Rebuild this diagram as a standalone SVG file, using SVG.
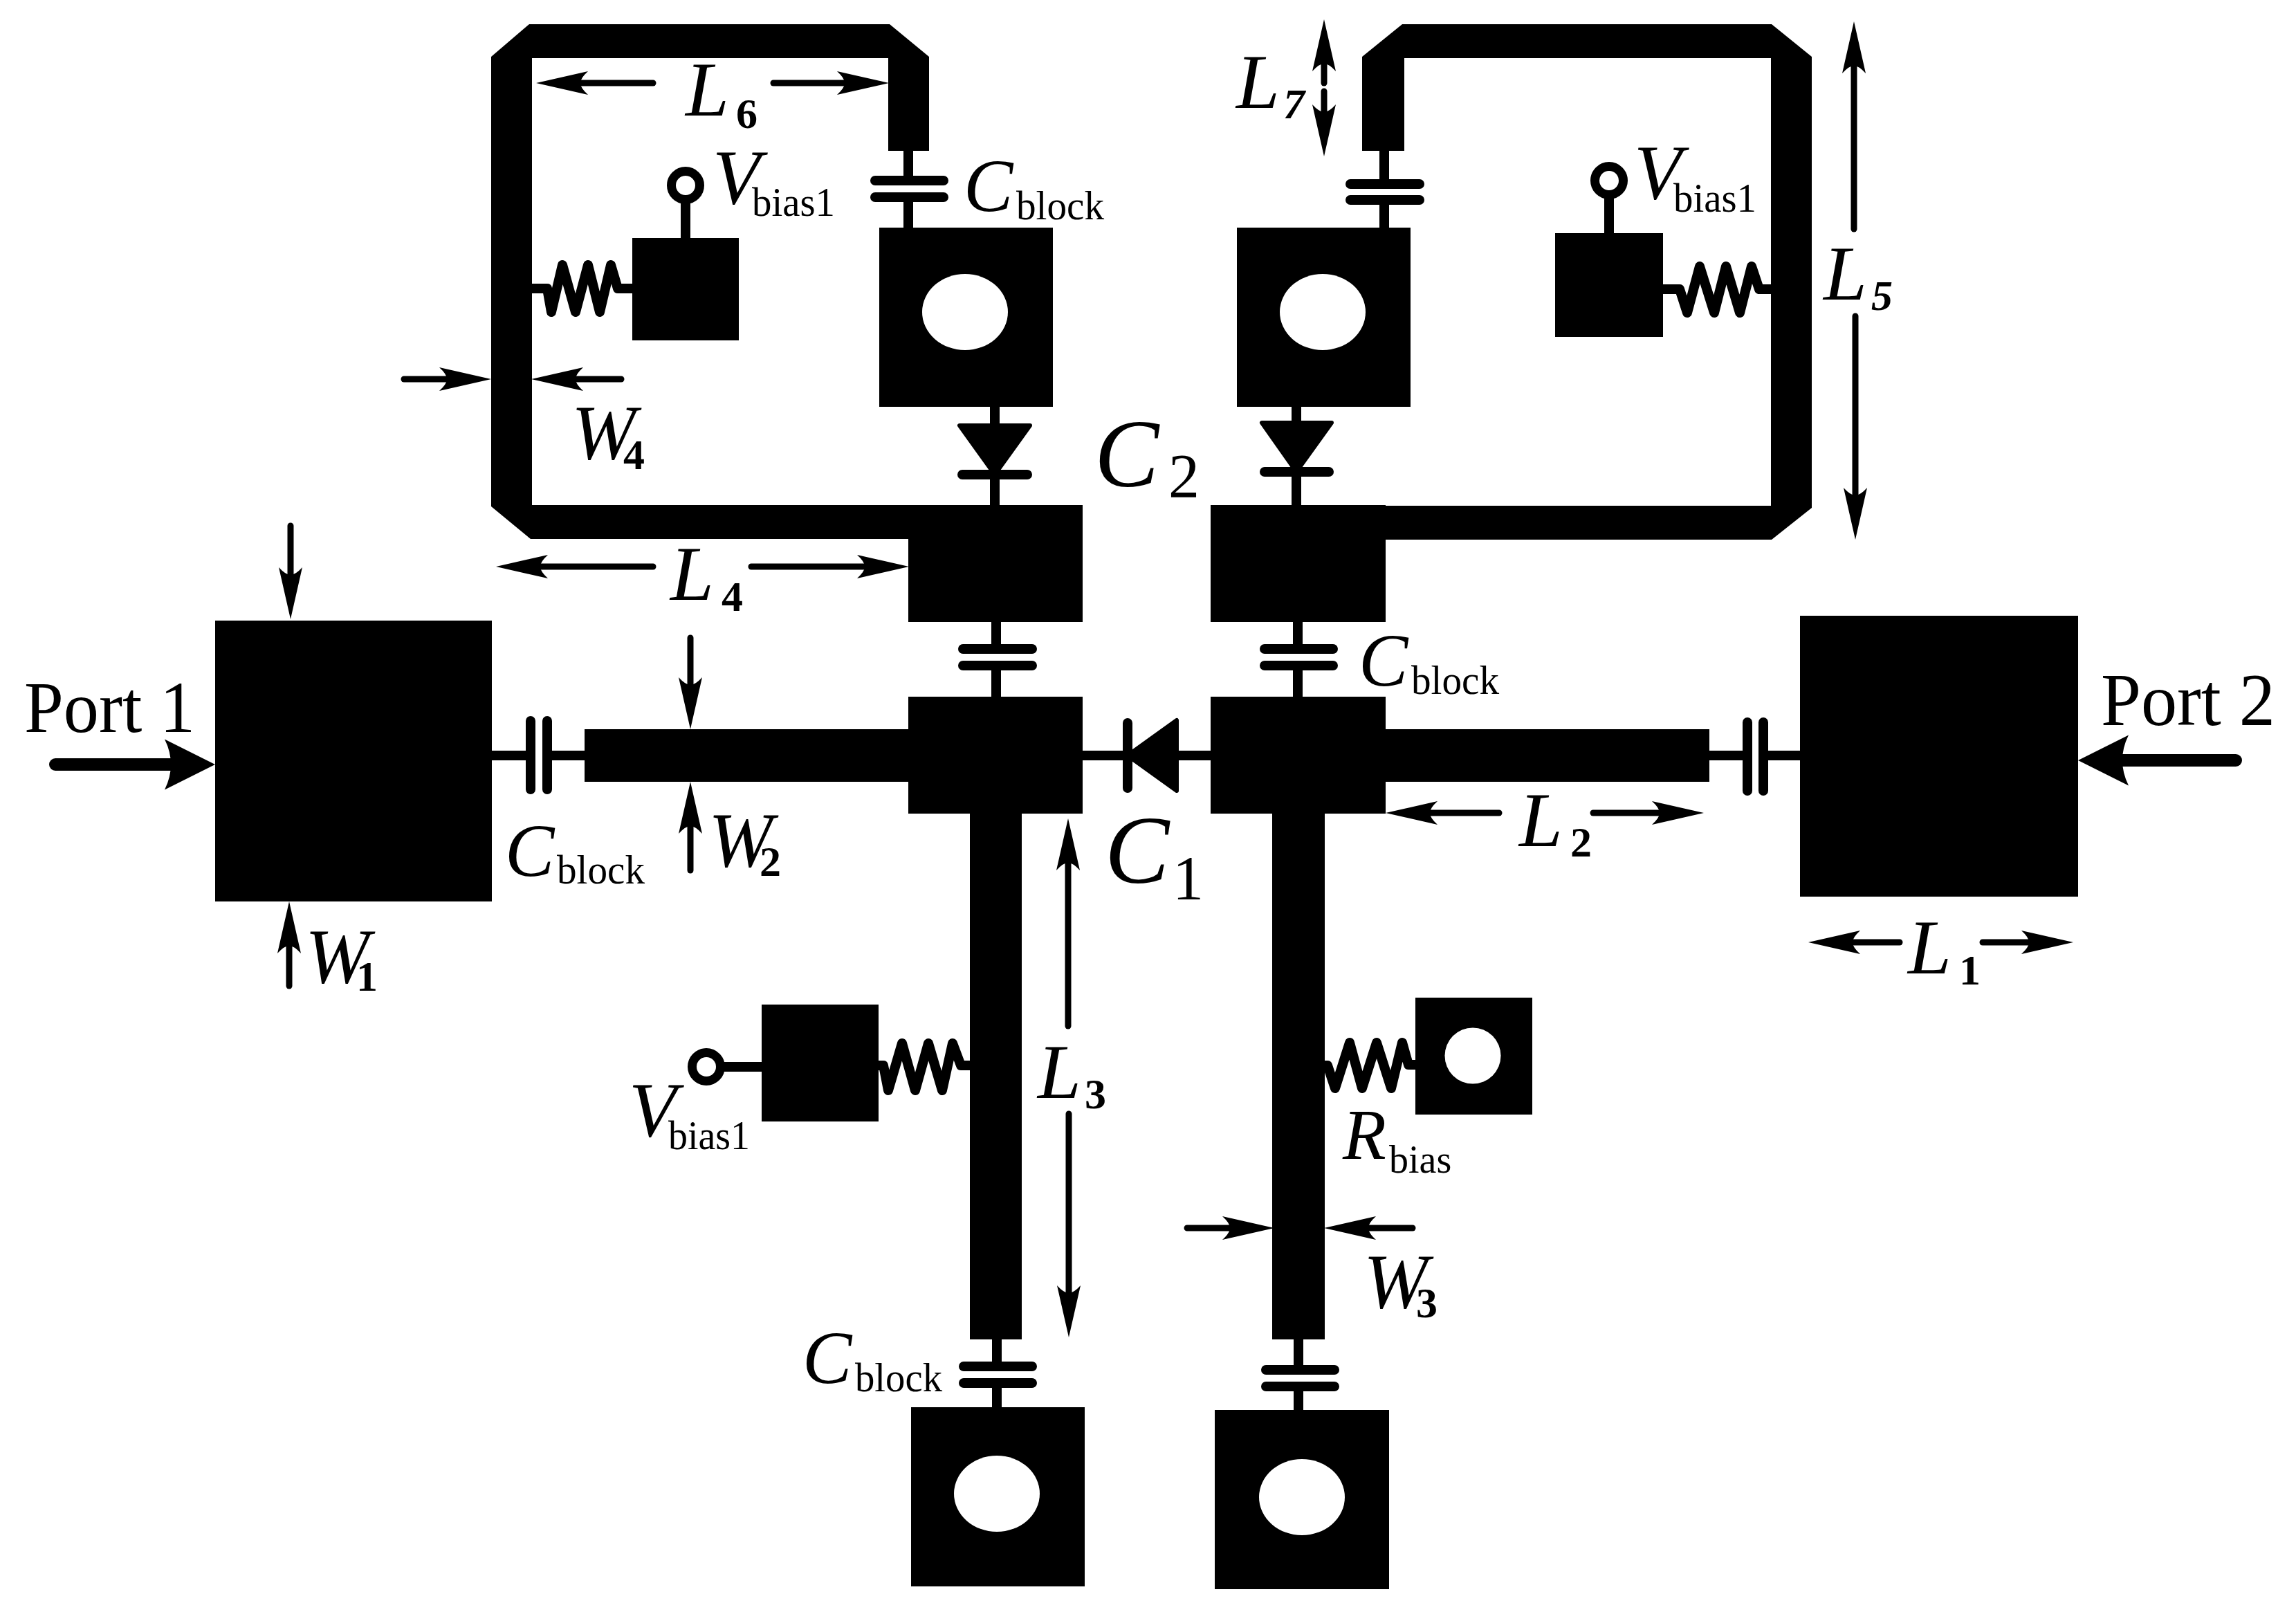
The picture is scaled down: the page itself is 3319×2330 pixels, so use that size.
<svg xmlns="http://www.w3.org/2000/svg" width="3319" height="2330" viewBox="0 0 3319 2330">
<style>
.s{fill:#000;stroke:none}
.h{fill:#fff;stroke:none}
.w{fill:none;stroke:#000;stroke-width:14;stroke-linecap:butt}
.p{fill:none;stroke:#000;stroke-width:14;stroke-linecap:round}
.r{fill:none;stroke:#000;stroke-width:14;stroke-linejoin:round}
.d{fill:#000;stroke:#000;stroke-width:6;stroke-linejoin:round}
.o{fill:#fff;stroke:#000;stroke-width:13}
.a{fill:none;stroke:#000;stroke-width:9;stroke-linecap:round;marker-end:url(#ah)}
.b{fill:none;stroke:#000;stroke-width:18;stroke-linecap:round;marker-end:url(#ph)}
text{fill:#000;font-family:"Liberation Serif","Times New Roman",serif}
.it{font-style:italic}
.rm{font-style:normal;font-weight:400}
.bd{font-style:normal;font-weight:700;font-size:62px}
.bi{font-style:italic;font-weight:700;font-size:62px}
.L{font-size:113px}
.C{font-size:107px}
.CC{font-size:140px}
.sb{font-size:60px;font-style:normal}
</style>
<defs>
<marker id="ah" markerUnits="userSpaceOnUse" viewBox="0 0 75 34" markerWidth="75" markerHeight="34" refX="11" refY="17" orient="auto" overflow="visible"><path d="M75 17L0 0Q11 10 11 17Q11 24 0 34Z"/></marker>
<marker id="ph" markerUnits="userSpaceOnUse" viewBox="0 0 73 73" markerWidth="73" markerHeight="73" refX="9" refY="36.5" orient="auto" overflow="visible"><path d="M73 36.5L0 0Q9 18 9 36.5Q9 55 0 73Z"/></marker>
</defs>
<rect width="3319" height="2330" fill="#fff"/>

<g id="connectors">
<path class="w" d="M1313 218V254M1313 292V329M1438 588V730M1440 899V931M1440 969V1007M1876 899V931M1876 969V1007M2001 218V259M2001 296V329M1874 588V730M1441 1936V1968M1441 2006V2034M1877 1936V1973M1877 2011V2038M991 344V285M2326 337V278"/>
<path class="w" d="M711 1092H760M797 1092H845M2471 1092H2519M2556 1092H2602M1565 1092H1750M1047 1542H1101"/>
<path class="r" d="M769 417H791L797 451L813 383L832 451L850 383L867 451L883 383L893 417H914"/>
<path class="r" d="M2404 418H2428L2439 452L2457 385L2478 452L2495 385L2515 452L2532 385L2543 418H2560"/>
<path class="r" d="M1270 1540H1277L1284 1576L1304 1508L1323 1576L1342 1508L1362 1576L1377 1508L1389 1540H1402"/>
<path class="r" d="M1915 1540H1919L1930 1573L1951 1507L1969 1573L1990 1507L2011 1573L2027 1507L2036 1539H2047"/>
</g>

<g id="arrows">
<path class="a" d="M420 760V831"/><path class="a" d="M418 1425V1367"/>
<path class="a" d="M998 922V990"/><path class="a" d="M998 1258V1194"/>
<path class="a" d="M1544 1483V1247"/><path class="a" d="M1545 1610V1869"/>
<path class="a" d="M944 819H781"/><path class="a" d="M1086 819H1250"/>
<path class="a" d="M944 120H839"/><path class="a" d="M1118 120H1221"/>
<path class="a" d="M898 548H832"/><path class="a" d="M584 548H646"/>
<path class="a" d="M1716 1775H1778"/><path class="a" d="M2042 1775H1978"/>
<path class="a" d="M2167 1175H2067"/><path class="a" d="M2303 1175H2399"/>
<path class="a" d="M2746 1362H2678"/><path class="a" d="M2866 1362H2933"/>
<path class="a" d="M1914 120V92"/><path class="a" d="M1914 132V162"/>
<path class="a" d="M2680 331V95"/><path class="a" d="M2682 457V716"/>
<path class="b" d="M80 1105H247"/><path class="b" d="M3232 1099H3068"/>
</g>

<g id="port1"><rect class="s" x="311" y="897" width="400" height="406"/></g>
<g id="port2"><rect class="s" x="2602" y="890" width="402" height="406"/></g>
<g id="left-loop"><polygon class="s" points="765,35 1286,35 1343,82 1343,218 1284,218 1284,84 769,84 769,730 1313,730 1313,779 767,779 710,732 710,82"/></g>
<g id="right-loop"><polygon class="s" points="2027,35 2561,35 2619,82 2619,734 2561,780 2003,780 2003,731 2560,731 2560,84 2030,84 2030,218 1969,218 1969,82"/></g>
<g id="pad-c2-left"><rect class="s" x="1313" y="730" width="252" height="169"/></g>
<g id="pad-c2-right"><rect class="s" x="1750" y="730" width="253" height="169"/></g>
<g id="pad-c1-left"><rect class="s" x="1313" y="1007" width="252" height="169"/></g>
<g id="pad-c1-right"><rect class="s" x="1750" y="1007" width="253" height="169"/></g>
<g id="feed-left"><rect class="s" x="845" y="1054" width="468" height="76"/></g>
<g id="feed-right"><rect class="s" x="2003" y="1054" width="468" height="76"/></g>
<g id="stem-left"><rect class="s" x="1402" y="1176" width="75" height="760"/></g>
<g id="stem-right"><rect class="s" x="1839" y="1176" width="76" height="760"/></g>

<g id="via-top-left"><rect class="s" x="1271" y="329" width="251" height="259"/><ellipse class="h" cx="1395" cy="451" rx="62" ry="55"/></g>
<g id="via-top-right"><rect class="s" x="1788" y="329" width="251" height="259"/><ellipse class="h" cx="1912" cy="451" rx="62" ry="55"/></g>
<g id="via-bottom-left"><rect class="s" x="1317" y="2034" width="251" height="259"/><ellipse class="h" cx="1441" cy="2159" rx="62" ry="55"/></g>
<g id="via-bottom-right"><rect class="s" x="1756" y="2038" width="252" height="259"/><ellipse class="h" cx="1882" cy="2164" rx="62" ry="55"/></g>
<g id="via-bias"><rect class="s" x="2046" y="1442" width="169" height="169"/><circle class="h" cx="2129" cy="1526" r="40.5"/></g>

<g id="bias-pad-top-left"><rect class="s" x="914" y="344" width="154" height="148"/><circle class="o" cx="991" cy="268" r="20.5"/></g>
<g id="bias-pad-top-right"><rect class="s" x="2248" y="337" width="156" height="150"/><circle class="o" cx="2326" cy="261" r="20.5"/></g>
<g id="bias-pad-bottom"><rect class="s" x="1101" y="1452" width="169" height="169"/><circle class="o" cx="1021" cy="1542" r="20.5"/></g>

<g id="cap-top-left"><path class="p" d="M1265 261H1364M1265 285H1364"/></g>
<g id="cap-top-right"><path class="p" d="M1952 266H2052M1952 289H2052"/></g>
<g id="cap-mid-left"><path class="p" d="M1392 938H1492M1392 962H1492"/></g>
<g id="cap-mid-right"><path class="p" d="M1828 938H1927M1828 962H1927"/></g>
<g id="cap-bottom-left"><path class="p" d="M1393 1975H1492M1393 1999H1492"/></g>
<g id="cap-bottom-right"><path class="p" d="M1830 1980H1929M1830 2004H1929"/></g>
<g id="cap-port1"><path class="p" d="M767 1042V1141M791 1042V1141"/></g>
<g id="cap-port2"><path class="p" d="M2526 1044V1143M2549 1044V1143"/></g>

<g id="diode-c2-left"><polygon class="d" points="1387,615 1489,615 1438,686"/><path class="p" d="M1391 686H1485"/></g>
<g id="diode-c2-right"><polygon class="d" points="1824,611 1925,611 1874,682"/><path class="p" d="M1828 682H1921"/></g>
<g id="diode-c1"><polygon class="d" points="1701,1041 1701,1143 1630,1092"/><path class="p" d="M1630 1045V1139"/></g>

<g id="labels">
<text class="rm" font-size="106" x="35" y="1058" textLength="247" lengthAdjust="spacingAndGlyphs">Port 1</text>
<text class="rm" font-size="108" x="3037" y="1048" textLength="252" lengthAdjust="spacingAndGlyphs">Port 2</text>

<text class="it L"><tspan x="991" y="167">L</tspan><tspan class="bd" x="1064" y="185">6</tspan></text>
<text class="it L"><tspan x="1787" y="156">L</tspan><tspan class="bi" x="1855" y="171">7</tspan></text>
<text class="it L"><tspan x="2636" y="433">L</tspan><tspan class="bi" x="2705" y="448">5</tspan></text>
<text class="it L"><tspan x="969" y="867">L</tspan><tspan class="bd" x="1043" y="883">4</tspan></text>
<text class="it L"><tspan x="1500" y="1587">L</tspan><tspan class="bd" x="1568" y="1602">3</tspan></text>
<text class="it L"><tspan x="2196" y="1223">L</tspan><tspan class="bd" x="2270" y="1238">2</tspan></text>
<text class="it L"><tspan x="2758" y="1407">L</tspan><tspan class="bd" x="2832" y="1423">1</tspan></text>

<text class="it L"><tspan x="826" y="663" textLength="93" lengthAdjust="spacingAndGlyphs">W</tspan><tspan class="bd" x="901" y="678">4</tspan></text>
<text class="it L"><tspan x="441" y="1420" textLength="93" lengthAdjust="spacingAndGlyphs">W</tspan><tspan class="bd" x="515" y="1432">1</tspan></text>
<text class="it L"><tspan x="1024" y="1252" textLength="93" lengthAdjust="spacingAndGlyphs">W</tspan><tspan class="bd" x="1098" y="1266">2</tspan></text>
<text class="it L"><tspan x="1971" y="1890" textLength="93" lengthAdjust="spacingAndGlyphs">W</tspan><tspan class="bd" x="2047" y="1904">3</tspan></text>

<text class="it L"><tspan x="1030" y="294">V</tspan><tspan class="sb" x="1087" y="312" textLength="120" lengthAdjust="spacingAndGlyphs">bias1</tspan></text>
<text class="it L"><tspan x="2362" y="287">V</tspan><tspan class="sb" x="2419" y="306" textLength="120" lengthAdjust="spacingAndGlyphs">bias1</tspan></text>
<text class="it L"><tspan x="909" y="1642">V</tspan><tspan class="sb" x="966" y="1661" textLength="118" lengthAdjust="spacingAndGlyphs">bias1</tspan></text>

<text class="it C"><tspan x="1393" y="305">C</tspan><tspan class="sb" x="1469" y="317" textLength="127" lengthAdjust="spacingAndGlyphs">block</tspan></text>
<text class="it C"><tspan x="730" y="1266">C</tspan><tspan class="sb" x="805" y="1277" textLength="127" lengthAdjust="spacingAndGlyphs">block</tspan></text>
<text class="it C"><tspan x="1964" y="991">C</tspan><tspan class="sb" x="2040" y="1003" textLength="127" lengthAdjust="spacingAndGlyphs">block</tspan></text>
<text class="it C"><tspan x="1160" y="1999">C</tspan><tspan class="sb" x="1236" y="2011" textLength="126" lengthAdjust="spacingAndGlyphs">block</tspan></text>

<text class="it" font-size="103"><tspan x="1941" y="1675">R</tspan><tspan class="sb" style="font-size:56px" x="2008" y="1695">bias</tspan></text>
<text class="it CC"><tspan x="1582" y="703">C</tspan><tspan class="rm" style="font-size:90px" x="1689" y="719">2</tspan></text>
<text class="it CC"><tspan x="1597" y="1276">C</tspan><tspan class="rm" style="font-size:90px" x="1695" y="1300">1</tspan></text>
</g>
</svg>
